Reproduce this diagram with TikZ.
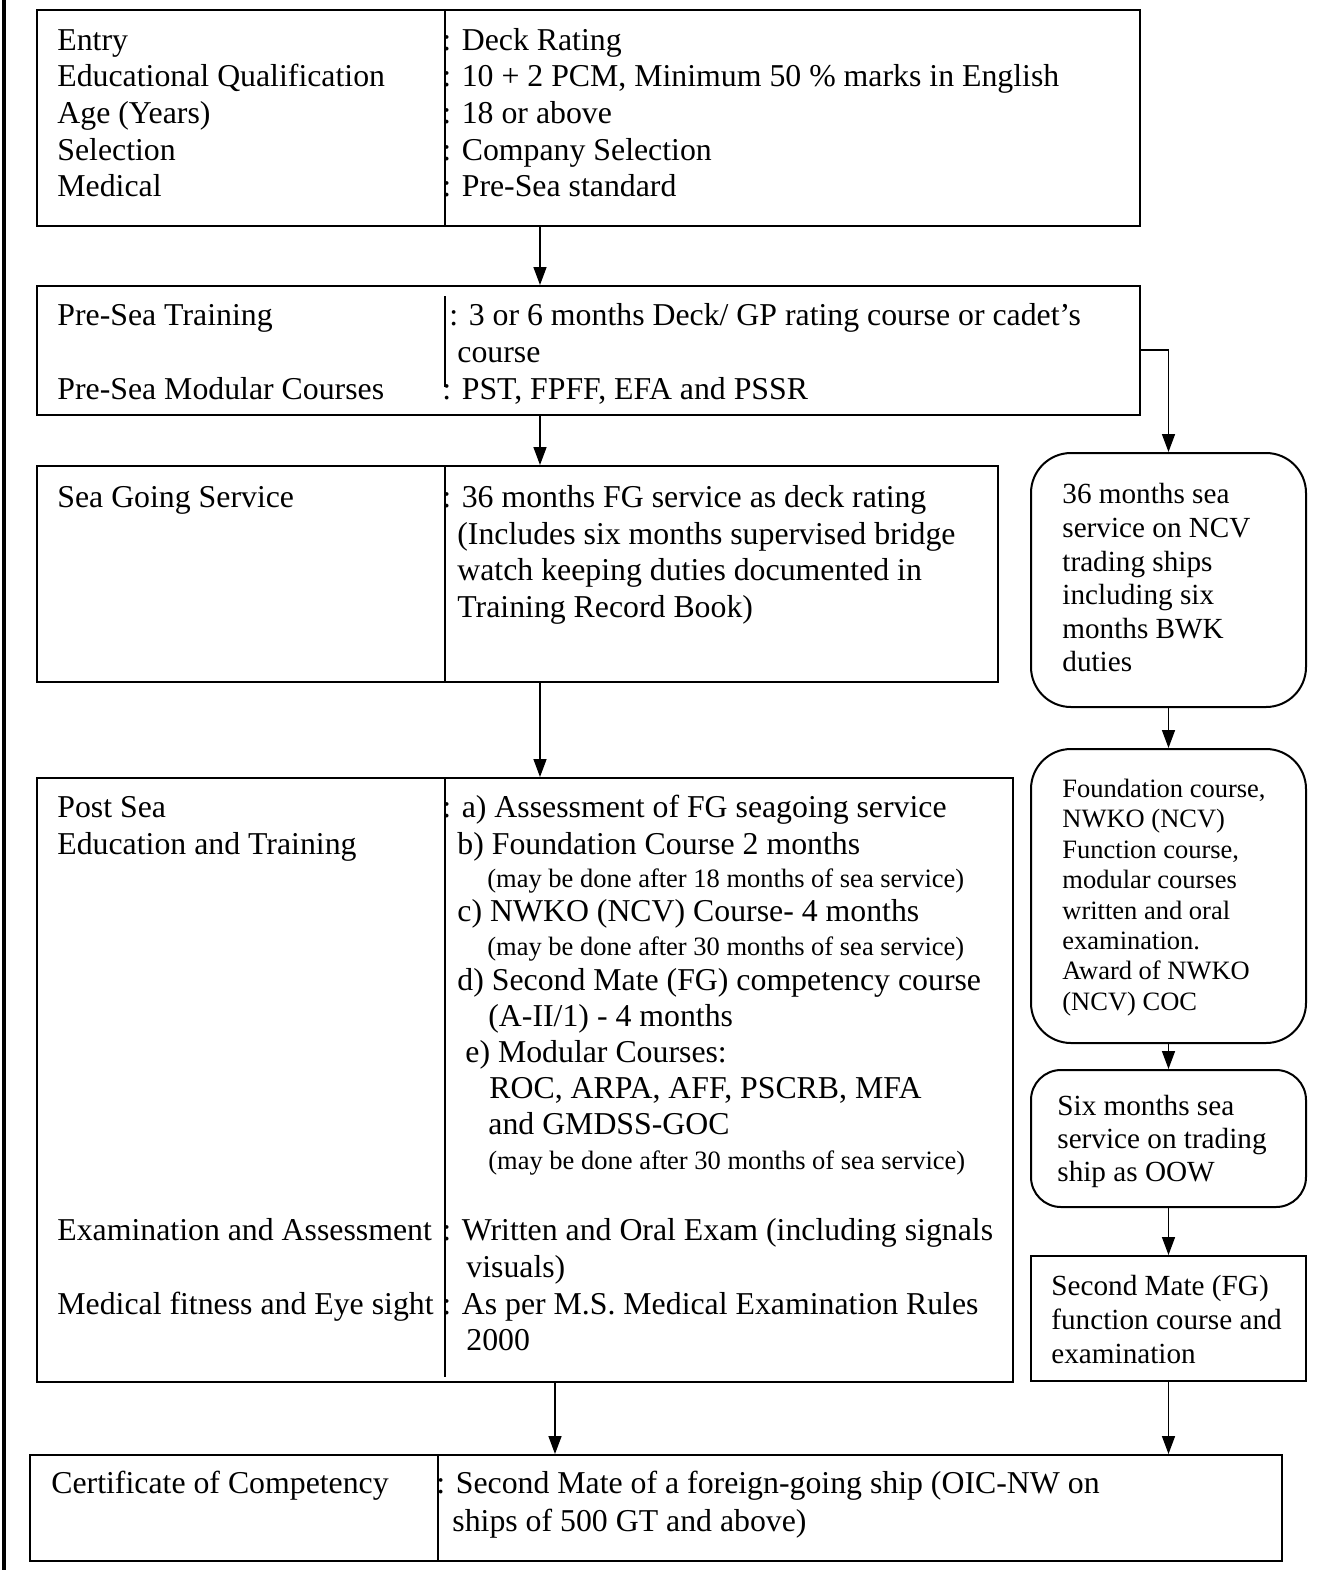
\documentclass[tikz,border=0pt]{standalone}
\usepackage{fontspec}
\setmainfont{Liberation Serif}
\usetikzlibrary{arrows.meta,fit}
\begin{document}
\begin{tikzpicture}[x=0.5pt,y=-0.5pt,
  box/.style={draw, line width=1pt, inner sep=0pt},
  rbox/.style={box, rounded corners=20pt},
  sbox/.style={box, rounded corners=15pt},
  div/.style={line width=0.75pt},
  arr/.style={line width=0.75pt, -{Triangle[length=9pt,width=6.5pt]}},
  tm/.style={anchor=base west, inner sep=0pt, font=\fontsize{15.9}{18}\selectfont},
  ts/.style={tm, font=\fontsize{13.25}{15}\selectfont},
  tr/.style={tm, font=\fontsize{14.6}{17}\selectfont}]
\useasboundingbox (0,0) rectangle (1319,1570);
% left page border
\draw[line width=2pt] (4,0) -- (4,1570);

% ---------- boxes ----------
\node[box, fit={(37,10)(1140,226)}] (b1) {};
\node[box, fit={(37,286)(1140,415)}] (b2) {};
\node[box, fit={(37,466)(998,682)}] (b3) {};
\node[box, fit={(37,778)(1013,1382)}] (b4) {};
\node[box, fit={(30,1455)(1282,1561)}] (b5) {};
\node[rbox, fit={(1031,453)(1306,707)}] (r1) {};
\node[rbox, fit={(1031,749)(1306,1043)}] (r2) {};
\node[sbox, fit={(1031,1070)(1306,1207)}] (r3) {};
\node[box, fit={(1031,1256)(1306,1381)}] (r4) {};

% ---------- dividers ----------
\coordinate (d1) at (445,0);
\coordinate (d2) at (438,0);
\coordinate (d2top) at (0,296);
\coordinate (d2bot) at (0,387);
\coordinate (d4bot) at (0,1377);
\draw[div] (b1.north -| d1) -- (b1.south -| d1);
\draw[div] (d1 |- d2top) -- (d1 |- d2bot);
\draw[div] (b3.north -| d1) -- (b3.south -| d1);
\draw[div] (b4.north -| d1) -- (d1 |- d4bot);
\draw[div] (b5.north -| d2) -- (b5.south -| d2);

% ---------- connectors ----------
\coordinate (xa) at (540,0);
\coordinate (xc) at (555,0);
\coordinate (yb) at (0,350);
\draw[arr] (b1.south -| xa) -- (b2.north -| xa);
\draw[arr] (b2.south -| xa) -- (b3.north -| xa);
\draw[arr] (b3.south -| xa) -- (b4.north -| xa);
\draw[arr] (b4.south -| xc) -- (b5.north -| xc);
\draw[arr] (b2.east |- yb) -| (r1.north);
\draw[arr] (r1.south) -- (r2.north);
\draw[arr] (r2.south) -- (r3.north);
\draw[arr] (r3.south) -- (r4.north);
\draw[arr] (r4.south) -- (b5.north -| r4.south);

% ---------- box 1 text ----------
\node[tm] (t1a) at (57,50) {Entry};
\node[tm] (t1b) at (57,86.7) {Educational Qualification};
\node[tm] (t1c) at (57,123.3) {Age (Years)};
\node[tm] (t1d) at (57,160) {Selection};
\node[tm] (t1e) at (57,196.7) {Medical};
\node[tm] (v1a) at (442,50) {: Deck Rating};
\node[tm] (v1b) at (442,86.7) {: 10 + 2 PCM, Minimum 50 \% marks in English};
\node[tm] (v1c) at (442,123.3) {: 18 or above};
\node[tm] (v1d) at (442,160) {: Company Selection};
\node[tm] (v1e) at (442,196.7) {: Pre-Sea standard};

% ---------- box 2 text ----------
\node[tm] (t2a) at (57,325) {Pre-Sea Training};
\node[tm] (t2b) at (57,399) {Pre-Sea Modular Courses};
\node[tm] (v2a) at (449,325) {: 3 or 6 months Deck/ GP rating course or cadet’s};
\node[tm] (v2b) at (457,362) {course};
\node[tm] (v2c) at (442,399) {: PST, FPFF, EFA and PSSR};

% ---------- box 3 text ----------
\node[tm] (t3a) at (57,507) {Sea Going Service};
\node[tm] (v3a) at (442,507) {: 36 months FG service as deck rating};
\node[tm] (v3b) at (457,544) {(Includes six months supervised bridge};
\node[tm] (v3c) at (457,580) {watch keeping duties documented in};
\node[tm] (v3d) at (457,617) {Training Record Book)};

% ---------- box 4 text ----------
\node[tm] (t4a) at (57,817) {Post Sea};
\node[tm] (t4b) at (57,854) {Education and Training};
\node[tm] (t4c) at (57,1240) {Examination and Assessment};
\node[tm] (t4d) at (57,1314) {Medical fitness and Eye sight};
\node[tm] (v4a) at (442,817) {: a) Assessment of FG seagoing service};
\node[tm] (v4b) at (457,854) {b) Foundation Course 2 months};
\node[ts] (v4c) at (487,887) {(may be done after 18 months of sea service)};
\node[tm] (v4d) at (457,921) {c) NWKO (NCV) Course- 4 months};
\node[ts] (v4e) at (487,955) {(may be done after 30 months of sea service)};
\node[tm] (v4f) at (457,990) {d) Second Mate (FG) competency course};
\node[tm] (v4g) at (488,1026) {(A-II/1) - 4 months};
\node[tm] (v4h) at (465,1062) {e) Modular Courses:};
\node[tm] (v4i) at (489,1098) {ROC, ARPA, AFF, PSCRB, MFA};
\node[tm] (v4j) at (488,1134) {and GMDSS-GOC};
\node[ts] (v4k) at (488,1169) {(may be done after 30 months of sea service)};
\node[tm] (v4l) at (442,1240) {: Written and Oral Exam (including signals};
\node[tm] (v4m) at (466,1277) {visuals)};
\node[tm] (v4n) at (442,1314) {: As per M.S. Medical Examination Rules};
\node[tm] (v4o) at (466,1350) {2000};

% ---------- bottom box text ----------
\node[tm] (t5a) at (51,1493) {Certificate of Competency};
\node[tm] (v5a) at (436,1493) {: Second Mate of a foreign-going ship (OIC-NW on};
\node[tm] (v5b) at (452,1531) {ships of 500 GT and above)};

% ---------- right column text ----------
\node[tr] (r1a) at (1062,503) {36 months sea};
\node[tr] (r1b) at (1062,537) {service on NCV};
\node[tr] (r1c) at (1062,571) {trading ships};
\node[tr] (r1d) at (1062,604) {including six};
\node[tr] (r1e) at (1062,638) {months BWK};
\node[tr] (r1f) at (1062,671) {duties};

\node[ts] (r2a) at (1062,797) {Foundation course,};
\node[ts] (r2b) at (1062,827) {NWKO (NCV)};
\node[ts] (r2c) at (1062,858) {Function course,};
\node[ts] (r2d) at (1062,888) {modular courses};
\node[ts] (r2e) at (1062,919) {written and oral};
\node[ts] (r2f) at (1062,949) {examination.};
\node[ts] (r2g) at (1062,979) {Award of NWKO};
\node[ts] (r2h) at (1062,1010) {(NCV) COC};

\node[tr] (r3a) at (1057,1115) {Six months sea};
\node[tr] (r3b) at (1057,1148) {service on trading};
\node[tr] (r3c) at (1057,1181) {ship as OOW};

\node[tr] (r4a) at (1051,1295) {Second Mate (FG)};
\node[tr] (r4b) at (1051,1329) {function course and};
\node[tr] (r4c) at (1051,1363) {examination};
\end{tikzpicture}
\end{document}
